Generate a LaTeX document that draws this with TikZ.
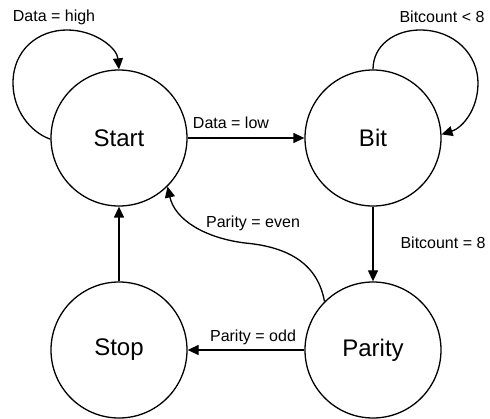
\documentclass[tikz,border=0pt]{standalone}
\usepackage{fontspec}
\setmainfont{Liberation Sans}
\usepackage{tikz}
\usetikzlibrary{arrows.meta,positioning}

\begin{document}
\begin{tikzpicture}[
    x=1pt, y=-1pt,
    every node/.style={font=\fontsize{16}{19}\selectfont},
    state/.style={draw, circle, line width=1.3pt, minimum size=136pt, inner sep=0pt, font=\fontsize{24}{29}\selectfont},
    trans/.style={line width=1.3pt, -{Triangle[length=11pt,width=10pt]}},
]
    \useasboundingbox (0,0) rectangle (490,419);

    % states
    \node[state] (start)  at (119,138) {Start};
    \node[state] (bit)    at (373,138) {Bit};
    \node[state] (stop)   at (119,350) {Stop};
    \node[state] (parity) at (373,350) {Parity};

    % self loops
    \draw[trans] (start.181) .. controls (30,132) and (13,110) .. (13,83)
        .. controls (13,50) and (38,30) .. (67,30)
        .. controls (95,30) and (117,48) .. (start.north);
    \node (lhigh) at (54,17) {Data = high};

    \draw[trans] (bit.north) .. controls (373,45) and (395,30) .. (420,30)
        .. controls (455,30) and (478,55) .. (478,83)
        .. controls (478,110) and (462,128) .. (bit.3);
    \node (lless) at (442,17) {Bitcount < 8};

    % transitions
    \draw[trans] (start) -- (bit);
    \node (llow) at (231,123) {Data = low};

    \draw[trans] (bit) -- (parity);
    \node (leight) at (443,243) {Bitcount = 8};

    \draw[trans] (parity) -- (stop);
    \node (lodd) at (253,337) {Parity = odd};

    \draw[trans] (stop) -- (start);

    \draw[trans] (parity.135) .. controls (318,265) and (290,247) .. (245,243)
        .. controls (205,238) and (175,220) .. (start.-45);
    \node (leven) at (253,223) {Parity = even};
\end{tikzpicture}
\end{document}
